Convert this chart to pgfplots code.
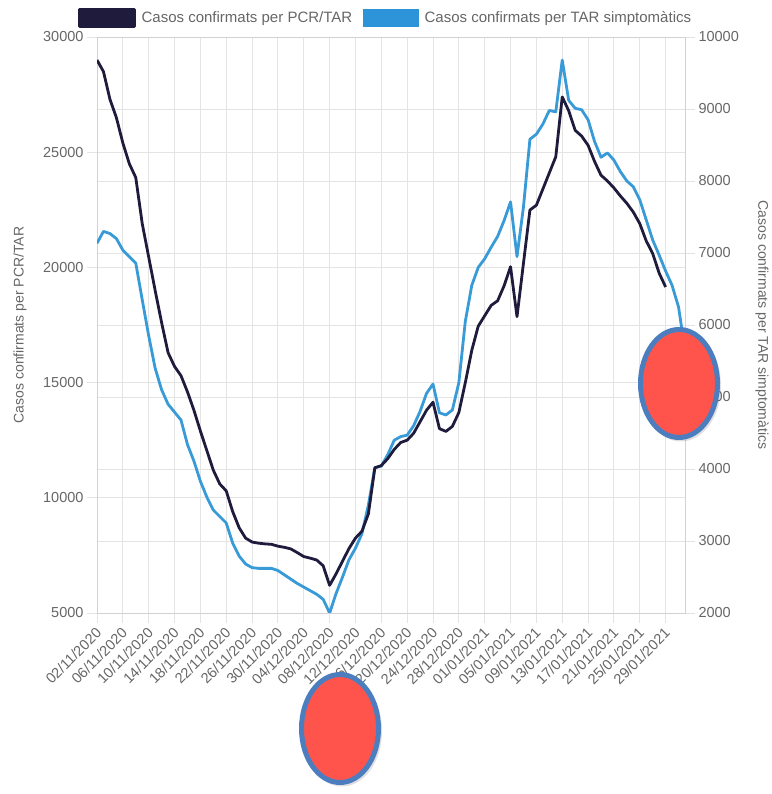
\documentclass[border=0pt]{standalone}
\usepackage{fontspec}
\setmainfont{Liberation Sans}
\usepackage{pgfplots}
\usepackage{pgfplotstable}
\pgfplotsset{compat=1.18}
\definecolor{darkline}{RGB}{30,27,60}
\definecolor{blueline}{RGB}{56,154,214}
\definecolor{bluelegend}{RGB}{45,148,218}
\definecolor{gridc}{RGB}{228,228,228}
\definecolor{axisc}{RGB}{210,210,210}
\definecolor{txt}{RGB}{102,102,102}
\definecolor{ellfill}{RGB}{255,84,76}
\definecolor{elldraw}{RGB}{76,125,190}

% Casos confirmats per PCR/TAR (left axis), day 0 = 02/11/2020
\pgfplotstableread{
d v
0 29000
1 28500
2 27300
3 26500
4 25400
5 24500
6 23900
7 21900
8 20450
9 19000
10 17600
11 16300
12 15700
13 15300
14 14600
15 13800
16 12900
17 12050
18 11200
19 10600
20 10300
21 9400
22 8700
23 8250
24 8080
25 8030
26 8000
27 7980
28 7900
29 7850
30 7780
31 7620
32 7450
33 7380
34 7300
35 7050
36 6200
37 6700
38 7250
39 7800
40 8250
41 8550
42 9300
43 11300
44 11400
45 11700
46 12100
47 12400
48 12500
49 12800
50 13300
51 13800
52 14150
53 13000
54 12880
55 13100
56 13700
57 15000
58 16400
59 17450
60 17900
61 18350
62 18550
63 19200
64 20030
65 17860
66 20180
67 22490
68 22700
69 23400
70 24100
71 24800
72 27400
73 26800
74 25950
75 25700
76 25300
77 24600
78 24000
79 23750
80 23450
81 23100
82 22780
83 22400
84 21900
85 21150
86 20600
87 19750
88 19150
}\pcrtab

% Casos confirmats per TAR simptomatics (right axis)
\pgfplotstableread{
d v
0 7135
1 7300
2 7270
3 7200
4 7040
5 6950
6 6860
7 6350
8 5850
9 5400
10 5100
11 4900
12 4790
13 4680
14 4340
15 4110
16 3830
17 3610
18 3430
19 3340
20 3250
21 2970
22 2790
23 2680
24 2630
25 2620
26 2620
27 2620
28 2590
29 2530
30 2470
31 2410
32 2360
33 2310
34 2260
35 2190
36 2000
37 2270
38 2500
39 2740
40 2900
41 3100
42 3500
43 4020
44 4040
45 4200
46 4400
47 4450
48 4470
49 4600
50 4800
51 5050
52 5180
53 4780
54 4750
55 4820
56 5200
57 6050
58 6550
59 6800
60 6920
61 7080
62 7230
63 7450
64 7710
65 6950
66 7640
67 8580
68 8650
69 8790
70 8980
71 8960
72 9680
73 9120
74 9010
75 8990
76 8850
77 8550
78 8330
79 8390
80 8290
81 8130
82 8000
83 7920
84 7740
85 7460
86 7180
87 6970
88 6750
89 6550
90 6250
91 5650
}\tartab

\begin{document}
\begin{tikzpicture}
\pgfplotsset{
  base/.style={
    set layers,
    at={(97pt,181pt)}, anchor=south west,
    scale only axis, width=588pt, height=576pt,
    xmin=0, xmax=91,
    scaled y ticks=false,
    tick label style={font=\fontsize{14.5}{17}\selectfont, text=txt},
    /pgf/number format/assume math mode=true,
    /pgf/number format/1000 sep={},
    grid style={gridc, line width=0.9pt},
    major tick length=10pt, tick align=outside,
    tick style={gridc, line width=0.9pt},
    axis line style={axisc, line width=0.9pt},
    label style={font=\fontsize{14}{17}\selectfont, text=txt},
  }
}
% right axis: TAR simptomatics
\begin{axis}[base,
  ymin=2000, ymax=10000,
  ytick={2000,3000,...,10000},
  ytick pos=right, yticklabel pos=right,
  ymajorgrids,
  xtick=\empty,
  ylabel={Casos confirmats per TAR simptomàtics},
  ylabel style={at={(axis description cs:1.131,0.5)}, anchor=center, rotate=180},
]
\addplot[blueline, line width=2.8pt, line join=round] table[x=d,y=v]{\tartab};
\end{axis}
% left axis: PCR/TAR
\begin{axis}[base,
  ymin=5000, ymax=30000,
  ytick={5000,10000,...,30000},
  ytick pos=left,
  xtick={0,4,...,88},
  xtick pos=bottom,
  xticklabels={02/11/2020,06/11/2020,10/11/2020,14/11/2020,18/11/2020,22/11/2020,26/11/2020,30/11/2020,04/12/2020,08/12/2020,12/12/2020,16/12/2020,20/12/2020,24/12/2020,28/12/2020,01/01/2021,05/01/2021,09/01/2021,13/01/2021,17/01/2021,21/01/2021,25/01/2021,29/01/2021},
  x tick label style={rotate=45, anchor=north east, inner sep=1pt, xshift=-3pt},
  xmajorgrids, ymajorgrids,
  ylabel={Casos confirmats per PCR/TAR},
  ylabel style={at={(axis description cs:-0.131,0.5)}, anchor=center},
  legend columns=2,
  legend style={draw=none, fill=none, at={(0.4906,1.033)}, anchor=center,
    font=\fontsize{15}{18}\selectfont, text=txt,
    /tikz/every even column/.append style={column sep=9pt}},
]
\addplot[darkline, line width=2.8pt, line join=round,
  legend image code/.code={\fill[darkline] (0pt,-8.5pt) rectangle (55pt,8.5pt); \path (59pt,0pt);}]
  table[x=d,y=v]{\pcrtab};
\addlegendentry{Casos confirmats per PCR/TAR}
\addlegendimage{legend image code/.code={\fill[bluelegend] (0pt,-8.5pt) rectangle (55pt,8.5pt); \path (59pt,0pt);}}
\addlegendentry{Casos confirmats per TAR simptomàtics}
\end{axis}
% annotation ellipses
\fill[black, opacity=0.12] (342pt,63pt) ellipse [x radius=40pt, y radius=55.5pt];
\filldraw[fill=ellfill, draw=elldraw, line width=5pt] (340pt,65.5pt) ellipse [x radius=38.5pt, y radius=54pt];
\fill[black, opacity=0.12] (681pt,408pt) ellipse [x radius=40pt, y radius=55.5pt];
\filldraw[fill=ellfill, draw=elldraw, line width=5pt] (679pt,410.5pt) ellipse [x radius=38.5pt, y radius=54pt];
\path (0,0) rectangle (769pt,794pt);
\end{tikzpicture}
\end{document}
